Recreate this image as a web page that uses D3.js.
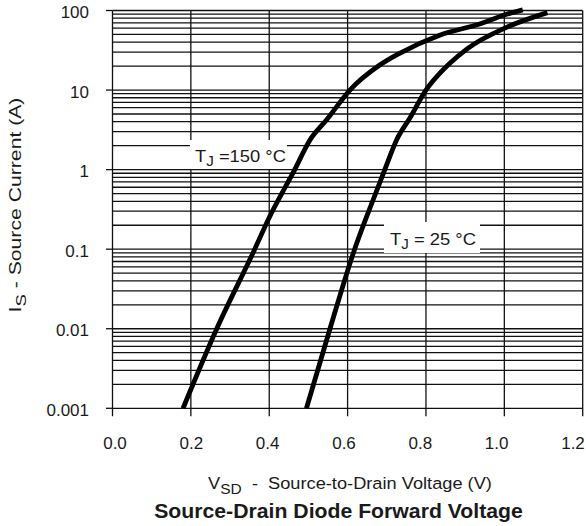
<!DOCTYPE html>
<html><head><meta charset="utf-8">
<script src="https://cdn.jsdelivr.net/npm/d3@7"></script>
<style>body{margin:0;background:#fff;} text{font-family:"Liberation Sans",Arial,Helvetica,sans-serif;fill:#1a1a1a;}</style>
</head><body><svg id="c" width="586" height="526"></svg>
<script>
// Data
const xTicks = [0.0, 0.2, 0.4, 0.6, 0.8, 1.0, 1.2];
const xTickLabels = ["0.0", "0.2", "0.4", "0.6", "0.8", "1.0", "1.2"];
const yTicks = [100, 10, 1, 0.1, 0.01, 0.001];
const yTickLabels = ["100", "10", "1", "0.1", "0.01", "0.001"];
const decades = [0.001, 0.01, 0.1, 1, 10];
const v150 = [0.18, 0.266, 0.363, 0.397, 0.465, 0.504, 0.546, 0.606, 0.682, 0.734, 0.835, 0.937, 1.0, 1.047];
const i150 = [0.001, 0.01, 0.1, 0.233, 1, 2.36, 4.2, 10, 20.6, 29.2, 49, 67.6, 87.7, 102];
const v25 = [0.495, 0.555, 0.618, 0.665, 0.695, 0.725, 0.759, 0.80, 0.835, 0.861, 0.905, 1.0, 1.11];
const i25 = [0.001, 0.01, 0.1, 0.415, 1, 2.36, 4.46, 10, 16.2, 21.7, 33, 59.7, 94];

const svg = d3.select("#c");
const L = 112.5, R = 582.7, T = 10.5, B = 408.3;
const x = d3.scaleLinear().domain([0, 1.2]).range([L, R]);
const xLab = d3.scaleLinear().domain([0, 1.2]).range([115, 573]);
const y = d3.scaleLog().domain([0.001, 100]).range([B, T]);

// horizontal grid
const hVals = [];
decades.forEach(d => { for (let k = 1; k <= 9; k++) hVals.push(k * d); });
hVals.push(100);
const g = svg.append("g");
g.selectAll("line.h").data(hVals).enter().append("line")
  .attr("x1", L).attr("x2", R).attr("y1", d => y(d)).attr("y2", d => y(d))
  .attr("stroke", "#111").attr("stroke-width", 1.3);
g.selectAll("line.v").data(xTicks).enter().append("line")
  .attr("x1", d => x(d)).attr("x2", d => x(d)).attr("y1", T).attr("y2", B + 8)
  .attr("stroke", "#111").attr("stroke-width", 1.3);
g.selectAll("line.yt").data(yTicks).enter().append("line")
  .attr("x1", L - 6.5).attr("x2", L).attr("y1", d => y(d)).attr("y2", d => y(d))
  .attr("stroke", "#111").attr("stroke-width", 1.3);

// tick labels
svg.selectAll("text.yl").data(yTicks).enter().append("text")
  .attr("x", 89).attr("y", d => y(d) + 7.5).attr("text-anchor", "end")
  .attr("font-size", 17).text((d, i) => yTickLabels[i]);
svg.selectAll("text.xl").data(xTicks).enter().append("text")
  .attr("x", d => xLab(d)).attr("y", 448.5).attr("text-anchor", "middle")
  .attr("font-size", 17).text((d, i) => xTickLabels[i]);

// curves
const line = d3.line().x(d => x(d[0])).y(d => y(d[1])).curve(d3.curveMonotoneX);
[[v150, i150], [v25, i25]].forEach(([vs, is]) => {
  svg.append("path").datum(vs.map((v, i) => [v, is[i]]))
    .attr("d", line).attr("fill", "none").attr("stroke", "#000").attr("stroke-width", 4.8)
    .attr("stroke-linejoin", "round");
});

// stretch text horizontally to a target width
function fit(t, target, anchor) {
  const w = t.node().getBBox().width;
  t.attr("transform", `scale(${target / w},1)`);
}
function richText(parent, size, parts, anchor) {
  const t = parent.append("text").attr("font-size", size).attr("text-anchor", anchor || "start");
  parts.forEach(p => {
    const s = t.append("tspan").text(p.t);
    if (p.sub) s.attr("font-size", p.sub).attr("dy", p.dy);
    else if (p.dy) s.attr("dy", p.dy);
  });
  return t;
}

// annotation boxes
function label(bx, by, bw, bh, tx, ty, rest, tw) {
  svg.append("rect").attr("x", bx).attr("y", by).attr("width", bw).attr("height", bh).attr("fill", "#fff");
  const gg = svg.append("g").attr("transform", `translate(${tx},${ty})`);
  const t = richText(gg, 17, [{t: "T"}, {t: "J", sub: 14, dy: 4.5}, {t: rest, dy: -4.5}]);
  fit(t, tw);
}
label(190, 140, 97, 29, 195, 161.5, " =150 °C", 91);
label(384, 222, 96, 31, 390, 244.5, " = 25 °C", 86);

// axis titles
const gx = svg.append("g").attr("transform", "translate(350,488.5)");
const xt = richText(gx, 16.5, [{t: "V"}, {t: "SD", sub: 14, dy: 5}, {t: "  -  Source-to-Drain Voltage (V)", dy: -5}], "middle");
xt.attr("xml:space", "preserve").style("white-space", "pre");
fit(xt, 284);

const gt = svg.append("g").attr("transform", "translate(338.5,518)");
const tt = gt.append("text").attr("text-anchor", "middle").attr("font-size", 20).attr("font-weight", "bold")
  .text("Source-Drain Diode Forward Voltage");
fit(tt, 369);

const gy = svg.append("g").attr("transform", "translate(20.7,205) rotate(-90)");
const yt = richText(gy, 16, [{t: "I"}, {t: "S", sub: 14, dy: 5}, {t: " - Source Current (A)", dy: -5}], "middle");
fit(yt, 215);
</script></body></html>
